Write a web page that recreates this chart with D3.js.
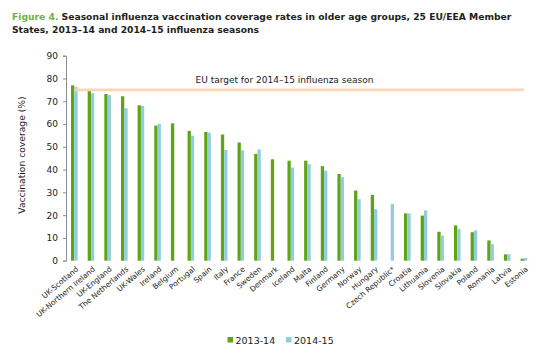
<!DOCTYPE html>
<html>
<head>
<meta charset="utf-8">
<script src="https://cdn.jsdelivr.net/npm/d3@7"></script>
<style>
  html, body { margin: 0; padding: 0; background: #fff; }
  svg { display: block; }
  text { font-family: "DejaVu Sans", Verdana, sans-serif; }
</style>
</head>
<body>
<svg id="chart" width="550" height="357"></svg>
<script>
const categories = ["UK-Scotland","UK-Northern Ireland","UK-England","The Netherlands","UK-Wales","Ireland","Belgium","Portugal","Spain","Italy","France","Sweden","Denmark","Iceland","Malta","Finland","Germany","Norway","Hungary","Czech Republic*","Croatia","Lithuania","Slovenia","Slovakia","Poland","Romania","Latvia","Estonia"];
const series = ["2013-14", "2014-15"];
const values2013 = [77.0, 74.5, 73.2, 72.2, 68.2, 59.3, 60.3, 57.0, 56.5, 55.4, 51.9, 46.9, 44.5, 43.9, 43.9, 41.5, 38.1, 30.8, 28.9, null, 20.8, 19.8, 12.7, 15.5, 12.5, 8.9, 2.8, 0.9];
const values2014 = [76.2, 73.5, 72.7, 66.9, 68.0, 60.1, null, 54.9, 56.2, 48.6, 48.5, 48.9, null, 40.9, 42.4, 39.5, 36.7, 27.0, 22.6, 24.9, 20.8, 22.1, 11.0, 13.9, 13.3, 7.3, 2.8, 1.2];
const yTicks = [0, 10, 20, 30, 40, 50, 60, 70, 80, 90];
const target = 75;
const targetLabel = "EU target for 2014\u201315 influenza season";
const titleLead = "Figure 4.";
const titleLine1 = " Seasonal influenza vaccination coverage rates in older age groups, 25 EU/EEA Member";
const titleLine2 = "States, 2013\u201314 and 2014\u201315 influenza seasons";
const yTitle = "Vaccination coverage (%)";

const colors = { "2013-14": "#5ea516", "2014-15": "#93cddd" };

const svg = d3.select("#chart");

const x = d3.scaleBand().domain(categories).range([66, 532.2]).paddingInner(0).paddingOuter(0);
const bw = x.bandwidth();
const x1 = d3.scaleBand().domain(series).range([bw / 2 - 3.3, bw / 2 + 3.3]);
const y = d3.scaleLinear().domain([0, 90]).range([260.7, 55.7]);

// Title
const t1 = svg.append("text").attr("x", 12).attr("y", 19.5)
  .attr("font-size", 10).attr("font-weight", "bold").attr("fill", "#231f20");
t1.append("tspan").attr("fill", "#6db33f").text(titleLead);
t1.append("tspan").text(titleLine1);
const t2 = svg.append("text").attr("x", 12).attr("y", 33)
  .attr("font-size", 10).attr("font-weight", "bold").attr("fill", "#231f20").text(titleLine2);
// fit title widths
function fit(sel, w) {
  const len = sel.node().getComputedTextLength();
  sel.attr("font-size", 10 * w / len);
}
fit(t1, 500);
t2.attr("font-size", t1.attr("font-size"));

// Bars
const rows = categories.map((c, i) => ({ c, v: [values2013[i], values2014[i]] }));
const g = svg.append("g");
rows.forEach(r => {
  series.forEach((s, k) => {
    const v = r.v[k];
    if (v == null) return;
    g.append("rect")
      .attr("x", x(r.c) + x1(s))
      .attr("y", y(v))
      .attr("width", x1.bandwidth())
      .attr("height", y(0) - y(v))
      .attr("fill", colors[s]);
  });
});

// Target line
svg.append("line")
  .attr("x1", x(categories[0]) + bw / 2)
  .attr("x2", x(categories[categories.length - 1]) + bw / 2)
  .attr("y1", y(target)).attr("y2", y(target))
  .attr("stroke", "#fcd5b5").attr("stroke-width", 2.6);
svg.append("text").attr("x", 195.5).attr("y", 83.3)
  .attr("font-size", 9).attr("fill", "#1a1a1a").text(targetLabel);

// Y axis
const yAxis = svg.append("g").attr("transform", "translate(66,0)")
  .call(d3.axisLeft(y).tickValues(yTicks).tickSize(3).tickPadding(5));
yAxis.select(".domain").attr("stroke", "#8c8c8c");
yAxis.selectAll(".tick line").attr("stroke", "#8c8c8c");
yAxis.selectAll(".tick text").attr("font-size", 9).attr("fill", "#1a1a1a")
  .attr("font-family", "DejaVu Sans, Verdana, sans-serif");

svg.append("text")
  .attr("transform", "translate(25,155) rotate(-90)")
  .attr("text-anchor", "middle").attr("font-size", 9.2).attr("fill", "#1a1a1a")
  .text(yTitle);

// X labels
const xAxis = svg.append("g").attr("transform", "translate(0,266)")
  .call(d3.axisBottom(x).tickSize(0).tickPadding(0));
xAxis.select(".domain").remove();
xAxis.selectAll(".tick text")
  .attr("font-size", 7.5).attr("fill", "#1a1a1a")
  .attr("font-family", "DejaVu Sans, Verdana, sans-serif")
  .attr("text-anchor", "end")
  .attr("x", 0).attr("y", 0).attr("dy", "0.35em")
  .attr("transform", "translate(3,2) rotate(-40)");

// Legend
const legend = svg.append("g");
const legX = [227.5, 286];
series.forEach((s, k) => {
  legend.append("rect").attr("x", legX[k]).attr("y", 337).attr("width", 5.5).attr("height", 5.5)
    .attr("fill", colors[s]);
  legend.append("text").attr("x", legX[k] + 8).attr("y", 344)
    .attr("font-size", 9.5).attr("fill", "#1a1a1a").text(s);
});
</script>
</body>
</html>
